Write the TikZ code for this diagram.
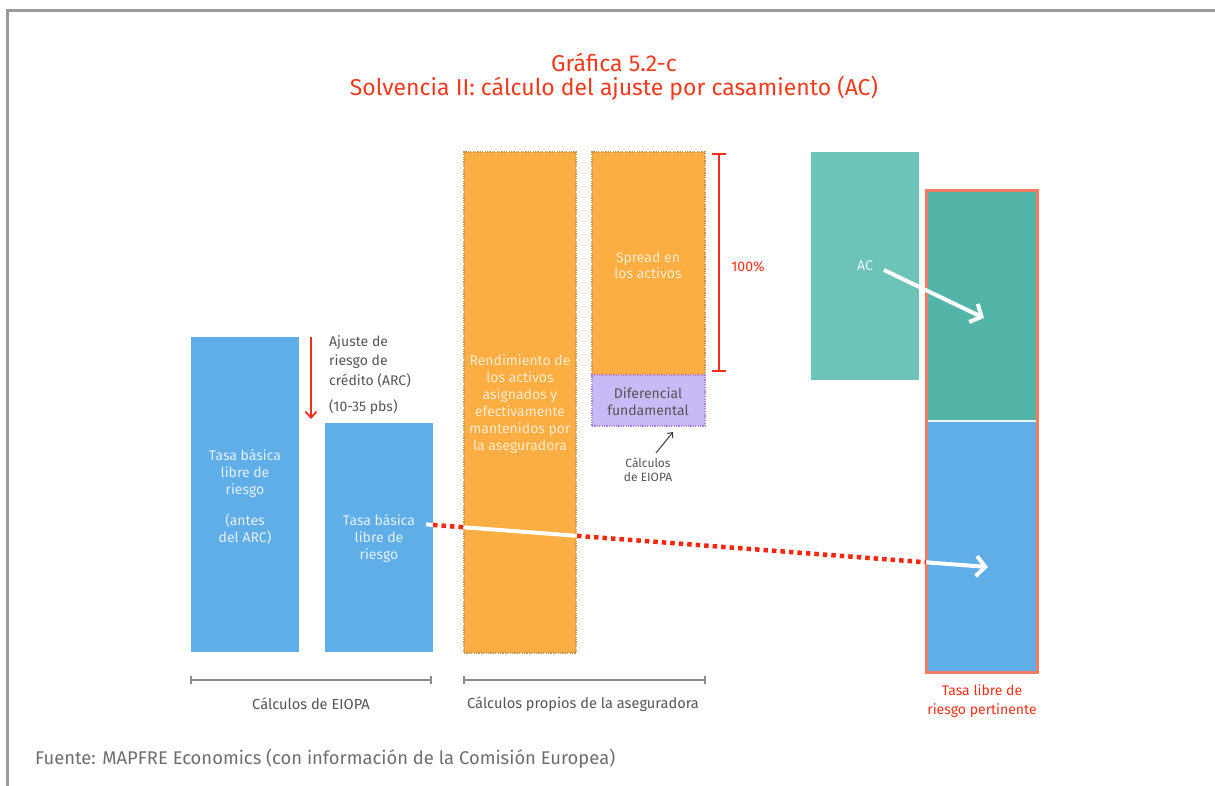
\documentclass[tikz,border=0pt]{standalone}
\usepackage{fontspec}
\setmainfont{Fira Sans}
\usetikzlibrary{arrows.meta,calc}
\definecolor{framegray}{HTML}{9A9A9A}
\definecolor{titlered}{HTML}{EE3A1F}
\definecolor{arrred}{HTML}{F0301A}
\definecolor{barblue}{HTML}{5FAEE8}
\definecolor{barorange}{HTML}{FCAE42}
\definecolor{orangeedge}{HTML}{C4904A}
\definecolor{lavender}{HTML}{C7BAF7}
\definecolor{lavedge}{HTML}{B47FE3}
\definecolor{tealA}{HTML}{6DC3B7}
\definecolor{tealB}{HTML}{52B5A7}
\definecolor{colred}{HTML}{F37A63}
\definecolor{txtgray}{HTML}{555555}
\definecolor{bluetxt}{HTML}{E6F1FB}
\definecolor{orangetxt}{HTML}{FDEBCF}
\definecolor{dotred}{HTML}{F2280F}
\begin{document}
\begin{tikzpicture}[x=1pt,y=-1pt,
  box/.style={anchor=north west,inner sep=0pt,outer sep=0pt},
  bartext/.style={align=center,font=\fontsize{14}{17}\selectfont,inner sep=0pt},
  graytext/.style={align=center,text=txtgray,inner sep=0pt},
  dottedge/.style={dash pattern=on 1.2pt off 1.2pt,line width=1.3pt},
  whitearrow/.style={white,line width=4pt,-{Straight Barb[length=9pt,width=20pt,line width=4pt]}},
  reddots/.style={dotred,line width=4.5pt,dash pattern=on 4.5pt off 4pt}
]
\useasboundingbox (0,0) rectangle (1215,785);
\draw[framegray,line width=3pt] (7,786) -- (7,10) -- (1216,10);

% title
\node[text=titlered,font=\fontsize{23}{27}\selectfont,inner sep=0pt] (t1) at (614,62) {Gráfica 5.2-c};
\node[text=titlered,font=\fontsize{23}{27}\selectfont,inner sep=0pt] (t2) at (614,88) {Solvencia II: cálculo del ajuste por casamiento (AC)};

% blue bars
\node[box,fill=barblue,minimum width=108pt,minimum height=315pt] (b1) at (191,337) {};
\node[box,fill=barblue,minimum width=108pt,minimum height=229pt] (b2) at (325,423) {};
\node[bartext,text=bluetxt] (b1t) at (245,473) {Tasa básica\\libre de\\riesgo};
\node[bartext,text=bluetxt] (b1u) at (245,529) {(antes\\del ARC)};
\node[bartext,text=bluetxt] (b2t) at (379,538) {Tasa básica\\libre de\\riesgo};

% ARC arrow
\coordinate (arcA) at (311,337);
\coordinate (arcB) at (311,419);
\draw[arrred,line width=1.8pt,-{Straight Barb[length=6pt,width=11pt,line width=1.8pt]}] (arcA) -- (arcB);
\node[graytext,align=left,anchor=north west,font=\fontsize{14}{19.5}\selectfont] (arc) at (329,335) {Ajuste de\\riesgo de\\crédito (ARC)};
\node[graytext,anchor=west,font=\fontsize{14}{16}\selectfont] (pbs) at (329,407) {(10-35 pbs)};

% orange bars
\node[box,fill=barorange,draw=orangeedge,dottedge,minimum width=112pt,minimum height=501pt] (o1) at (464,152) {};
\node[bartext,text=orangetxt] (o1t) at (520,404.5) {Rendimiento de\\los activos\\asignados y\\efectivamente\\mantenidos por\\la aseguradora};
\node[box,fill=barorange,draw=orangeedge,dottedge,minimum width=113pt,minimum height=223pt] (o2) at (592,152) {};
\node[bartext,text=orangetxt,font=\fontsize{14}{16}\selectfont] (o2t) at (648,265.5) {Spread en\\los activos};
\node[box,fill=lavender,draw=lavedge,dottedge,minimum width=113pt,minimum height=51pt] (lav) at (592,375) {};
\node[bartext,text=txtgray,font=\fontsize{14}{17}\selectfont] (lavt) at (648,401.5) {Diferencial\\fundamental};

% small arrow and EIOPA note
\node[graytext,font=\fontsize{12}{14}\selectfont] (eiopa) at (648,470) {Cálculos\\de EIOPA};
\coordinate (ea) at (656,453);
\coordinate (eb) at (673,432);
\draw[txtgray!70!black,line width=1pt,-{Straight Barb[length=4pt,width=7pt]}] (ea) -- (eb);

% 100% bracket
\coordinate (brT) at (719,154);
\coordinate (brB) at (719,371);
\draw[arrred,line width=1.8pt] (brT) -- (brB);
\draw[arrred,line width=1.8pt] ($(brT)+(-7,0)$) -- ($(brT)+(7,0)$);
\draw[arrred,line width=1.8pt] ($(brB)+(-7,0)$) -- ($(brB)+(7,0)$);
\node[text=arrred,font=\fontsize{14}{16}\selectfont,inner sep=0pt] (pct) at (748,267) {100\%};

% teal box
\node[box,fill=tealA,minimum width=108pt,minimum height=228pt] (ac) at (811,152) {};
\node[text=white!85!tealA,font=\fontsize{14}{16}\selectfont,inner sep=0pt] (act) at (865,266) {AC};

% right column
\node[box,fill=tealB,minimum width=111pt,minimum height=231pt] (ct) at (926,190) {};
\node[box,fill=barblue,minimum width=111pt,minimum height=251pt] (cb) at (926,421) {};
\draw[white!90!tealB,line width=1.5pt] (cb.north west) -- (cb.north east);
\node[box,draw=colred,line width=3pt,minimum width=111pt,minimum height=482pt] (col) at (926,190) {};
\node[text=arrred,font=\fontsize{14}{19}\selectfont,align=center,inner sep=0pt] (colt) at (982,701.5) {Tasa libre de\\riesgo pertinente};

% AC arrow
\coordinate (acA) at (884,270);
\coordinate (acB) at (984,318);
\draw[whitearrow] (acA) -- (acB);

% long line
\coordinate (S) at (426,524.4);
\coordinate (E) at (988,567);
\coordinate (p1) at ($(S)!0.01246!(E)$);
\coordinate (p2) at ($(S)!0.0676!(E)$);
\coordinate (p3) at ($(S)!0.2687!(E)$);
\coordinate (p4) at ($(S)!0.8897!(E)$);
\draw[white,line width=4pt] (S) -- (p1);
\draw[reddots] (p1) -- (p2);
\draw[white,line width=4pt] (p2) -- (p3);
\draw[reddots] (p3) -- (p4);
\draw[whitearrow] (p4) -- (E);

% bottom brackets
\coordinate (g1a) at (191,680);
\coordinate (g1b) at (431,680);
\coordinate (g2a) at (464,680);
\coordinate (g2b) at (705,680);
\draw[framegray!90!black,line width=1.3pt] (g1a) -- (g1b);
\draw[framegray!90!black,line width=1.3pt] ($(g1a)+(0,-4)$) -- ($(g1a)+(0,4)$);
\draw[framegray!90!black,line width=1.3pt] ($(g1b)+(0,-4)$) -- ($(g1b)+(0,4)$);
\draw[framegray!90!black,line width=1.3pt] (g2a) -- (g2b);
\draw[framegray!90!black,line width=1.3pt] ($(g2a)+(0,-4)$) -- ($(g2a)+(0,4)$);
\draw[framegray!90!black,line width=1.3pt] ($(g2b)+(0,-4)$) -- ($(g2b)+(0,4)$);
\node[graytext,font=\fontsize{14.6}{16}\selectfont] (g1t) at (311,704) {Cálculos de EIOPA};
\node[graytext,font=\fontsize{14.6}{16}\selectfont] (g2t) at (583,704) {Cálculos propios de la aseguradora};

% source
\node[anchor=west,text=txtgray!85!white,font=\fontsize{18.4}{21}\selectfont,inner sep=0pt] (src) at (35,759) {Fuente: MAPFRE Economics (con información de la Comisión Europea)};
\end{tikzpicture}
\end{document}
